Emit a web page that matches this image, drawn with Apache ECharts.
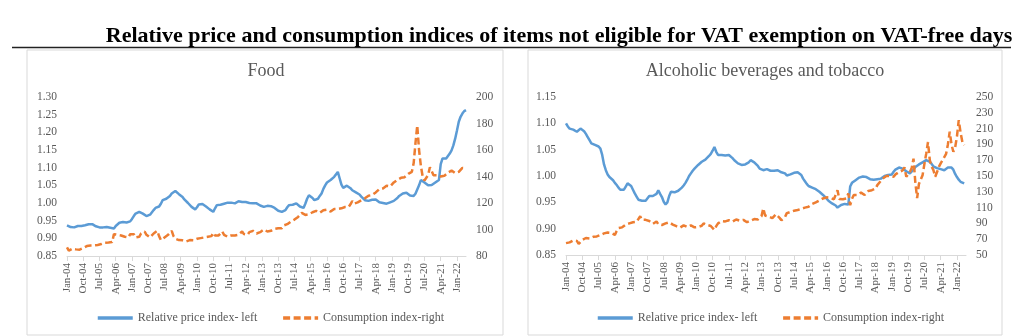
<!DOCTYPE html>
<html><head><meta charset="utf-8">
<script src="https://cdn.jsdelivr.net/npm/echarts@6/dist/echarts.min.js"></script>
<style>html,body{margin:0;padding:0;background:#fff}#c{width:1024px;height:336px}</style>
</head><body><div id="c"></div>
<script>
const monthNames = ['Jan','Feb','Mar','Apr','May','Jun','Jul','Aug','Sep','Oct','Nov','Dec'];
const firstYear = 4;
const monthCount = 222;
const months = [];
for (let i = 0; i < monthCount; i++) {
  months.push(monthNames[i % 12] + '-' + String(firstYear + Math.floor(i / 12)).padStart(2, '0'));
}

const foodPrice = [
0.937,0.934,0.932,0.931,0.931,0.933,0.935,0.936,0.935,0.937,
0.937,0.938,0.940,0.941,0.940,0.937,0.934,0.932,0.931,0.932,
0.931,0.930,0.932,0.931,0.930,0.929,0.928,0.935,0.940,0.944,
0.945,0.946,0.946,0.945,0.946,0.948,0.955,0.963,0.970,0.973,
0.975,0.974,0.970,0.966,0.963,0.965,0.967,0.970,0.980,0.986,
0.988,0.990,0.998,1.008,1.013,1.012,1.015,1.020,1.027,1.031,
1.034,1.030,1.025,1.024,1.017,1.010,1.005,1.000,0.995,0.989,
0.985,0.982,0.988,0.996,1.000,0.997,0.993,0.990,0.987,0.982,
0.978,0.975,0.985,0.994,0.998,0.995,0.994,0.998,1.000,1.001,
0.999,1.001,1.000,0.999,1.003,1.005,1.006,1.003,1.001,1.003,
1.002,1.000,1.001,0.999,0.998,0.999,0.997,0.993,0.991,0.989,
0.990,0.992,0.993,0.991,0.989,0.986,0.984,0.978,0.976,0.975,
0.977,0.980,0.988,0.994,0.996,0.995,0.998,0.999,0.995,0.990,
0.987,0.986,0.998,1.012,1.022,1.020,1.014,1.008,1.005,1.012,
1.020,1.027,1.040,1.050,1.058,1.060,1.065,1.068,1.074,1.078,
1.088,1.070,1.052,1.043,1.046,1.049,1.050,1.042,1.036,1.033,
1.030,1.027,1.024,1.018,1.013,1.008,1.005,1.006,1.008,1.009,
1.010,1.010,1.005,1.002,1.001,1.000,0.999,0.998,0.999,1.002,
1.004,1.006,1.008,1.014,1.020,1.024,1.027,1.028,1.029,1.025,
1.021,1.017,1.020,1.026,1.031,1.050,1.065,1.062,1.058,1.054,
1.050,1.050,1.051,1.052,1.058,1.062,1.065,1.110,1.126,1.124,
1.126,1.133,1.140,1.149,1.163,1.182,1.205,1.230,1.244,1.253,1.260,1.263
];
const foodCons = [
86.5,84.0,83.0,85.5,84.5,85.0,86.5,84.8,85.5,86.0,
87.0,87.5,86.8,88.0,88.5,88.0,89.0,88.3,88.8,89.0,
89.5,90.0,89.6,90.2,91.0,90.5,96.5,95.5,96.0,94.8,
95.5,96.0,94.5,95.0,94.0,96.5,95.0,96.5,94.0,95.0,
94.5,97.0,95.5,98.5,96.0,94.5,94.0,95.5,97.0,96.5,
99.0,95.0,92.0,93.0,94.0,95.0,96.0,97.5,99.0,95.0,
93.0,92.5,92.0,91.5,91.8,92.5,91.0,91.5,92.0,92.5,
91.8,92.5,93.0,92.8,93.5,94.5,94.0,95.0,94.5,96.0,
95.0,97.5,95.5,94.5,95.5,96.0,98.5,96.0,95.0,94.5,
95.0,95.5,96.5,95.5,97.0,96.0,97.5,98.5,96.5,95.5,
96.0,98.0,99.5,99.0,98.0,97.0,98.5,98.0,99.0,100.0,
99.5,98.5,98.0,99.0,100.0,100.5,100.0,101.0,101.5,101.0,
103.0,104.5,104.0,105.5,106.0,106.5,107.5,108.5,109.5,111.0,
112.5,112.0,111.0,112.5,111.5,112.5,113.0,112.0,114.0,113.0,
112.5,113.5,114.5,113.5,115.0,114.0,113.5,114.5,115.5,114.5,
115.5,116.0,116.0,115.5,117.0,116.5,117.0,119.0,121.5,119.5,
120.0,120.5,121.5,122.0,123.0,123.5,124.0,125.5,125.0,126.0,
127.0,128.0,129.0,130.5,129.5,131.0,132.5,133.0,131.5,132.5,
134.0,135.5,136.0,137.5,138.0,139.0,140.0,139.5,141.0,142.0,
142.5,143.5,150.0,165.0,178.5,160.0,148.0,140.0,137.0,135.5,
141.0,147.0,144.0,141.0,139.5,141.0,142.5,140.0,138.5,140.5,
142.0,143.0,142.5,144.5,145.0,142.5,141.0,143.5,144.5,146.5,147.5,146.0
];
const alcPrice = [
1.100,1.094,1.090,1.090,1.088,1.087,1.084,1.085,1.090,1.089,
1.085,1.080,1.074,1.068,1.062,1.060,1.059,1.058,1.056,1.052,
1.040,1.022,1.011,1.003,0.998,0.995,0.992,0.987,0.983,0.978,
0.974,0.972,0.974,0.980,0.986,0.984,0.981,0.974,0.967,0.961,
0.955,0.952,0.953,0.954,0.953,0.956,0.962,0.965,0.962,0.961,
0.966,0.973,0.966,0.960,0.951,0.946,0.950,0.962,0.970,0.970,
0.969,0.969,0.972,0.975,0.978,0.982,0.987,0.993,1.000,1.005,
1.010,1.014,1.017,1.021,1.024,1.027,1.030,1.031,1.033,1.038,
1.042,1.048,1.055,1.046,1.040,1.039,1.040,1.038,1.039,1.041,
1.040,1.038,1.034,1.030,1.027,1.024,1.022,1.021,1.021,1.022,
1.022,1.026,1.030,1.028,1.026,1.024,1.019,1.014,1.011,1.011,
1.012,1.013,1.011,1.010,1.009,1.010,1.011,1.011,1.009,1.007,
1.006,1.005,1.001,1.001,1.003,1.005,1.006,1.007,1.007,1.005,
1.002,0.995,0.990,0.985,0.981,0.979,0.978,0.978,0.975,0.972,
0.970,0.967,0.964,0.961,0.957,0.953,0.950,0.948,0.948,0.944,
0.940,0.943,0.945,0.946,0.947,0.948,0.946,0.980,0.987,0.990,
0.992,0.994,0.997,0.998,0.999,0.998,0.998,0.996,0.994,0.994,
0.993,0.993,0.994,0.995,0.995,0.997,1.000,1.002,1.002,1.003,
1.003,1.008,1.012,1.014,1.016,1.017,1.014,1.011,1.009,1.007,
1.005,1.006,1.012,1.017,1.020,1.022,1.024,1.026,1.028,1.030,
1.029,1.027,1.023,1.018,1.016,1.015,1.015,1.013,1.012,1.011,
1.013,1.016,1.017,1.016,1.012,1.004,0.998,0.993,0.989,0.987,0.986
];
const alcCons = [
65.0,67.5,66.0,67.0,68.5,66.5,67.8,64.0,63.0,69.0,
70.0,71.5,72.0,71.0,73.5,73.0,74.0,73.5,75.0,75.3,
76.5,77.4,76.5,78.5,79.5,78.0,80.0,75.5,80.5,84.0,
85.9,85.0,87.2,88.5,87.0,90.1,89.0,91.5,91.0,92.0,
94.0,99.0,94.5,93.0,94.5,92.5,93.0,94.0,89.5,91.4,
92.5,89.0,86.7,88.0,89.5,90.0,88.5,91.4,89.0,88.5,
88.0,86.5,87.0,84.6,86.0,87.5,88.0,85.5,86.7,87.5,
86.0,85.0,86.5,85.5,84.6,87.0,90.0,89.0,88.0,87.5,
86.7,85.0,81.7,86.5,90.0,91.5,93.0,94.4,92.5,93.0,
94.0,92.5,92.2,93.5,95.0,94.4,93.5,95.5,94.4,93.0,
91.5,92.2,93.5,94.4,95.5,96.0,95.0,97.2,99.0,109.0,
100.0,100.0,98.5,97.5,96.6,99.0,101.5,100.8,97.0,94.0,
93.0,98.0,103.0,103.5,104.5,105.0,106.0,106.5,107.0,108.0,
108.5,109.0,110.0,110.5,111.0,112.5,114.5,115.5,116.5,117.5,
119.0,120.5,121.6,122.5,123.0,123.8,122.5,121.6,120.5,126.0,
132.0,121.0,119.6,120.5,121.0,121.6,128.0,113.0,121.0,126.0,
127.0,126.0,128.0,129.0,127.0,126.0,128.0,131.0,130.0,132.0,
133.0,134.0,138.5,140.0,144.0,146.7,148.0,150.0,150.9,150.0,
148.0,149.0,152.0,153.0,155.0,156.0,157.0,161.0,149.0,152.0,
155.0,160.0,172.0,142.0,122.0,140.0,145.5,151.0,165.0,178.0,
193.0,170.0,162.0,157.5,149.0,155.0,161.6,166.0,170.0,174.0,
178.0,190.0,206.0,190.0,180.6,186.0,200.0,220.6,205.0,193.0,189.0
];
const alcRightTicks = [50,70,90,110,130,150,170,190,210,230,250];

const seriesNames = ['Relative price index- left', 'Consumption index-right'];
const BLUE = '#5b9bd5', ORANGE = '#ed7d31', GREY = '#595959', AXIS = '#d9d9d9';
const FONT = 'Liberation Serif';

function xAxis(gridIndex) {
  return {
    type: 'category', gridIndex, data: months, boundaryGap: false,
    axisLine: { lineStyle: { color: AXIS, width: 1 } },
    axisTick: { show: true, interval: 8, length: 5, lineStyle: { color: AXIS } },
    axisLabel: { interval: 8, rotate: 90, margin: 7, color: GREY, fontFamily: FONT, fontSize: 11 },
    splitLine: { show: false }
  };
}
function yAxis(gridIndex, pos, min, max, interval, digits, custom) {
  const a = {
    type: 'value', gridIndex, position: pos, min, max,
    axisLine: { show: false }, axisTick: { show: false }, splitLine: { show: false },
    axisLabel: { color: GREY, fontFamily: FONT, fontSize: 11.5, margin: 10,
      formatter: v => Number(v).toFixed(digits) }
  };
  if (custom) { a.axisLabel.customValues = custom; } else { a.interval = interval; }
  return a;
}
function priceSeries(xi, yi, data) {
  return { name: seriesNames[0], type: 'line', xAxisIndex: xi, yAxisIndex: yi, data,
    symbol: 'none', lineStyle: { color: BLUE, width: 2.5 }, itemStyle: { color: BLUE }, animation: false };
}
function consSeries(xi, yi, data) {
  return { name: seriesNames[1], type: 'line', xAxisIndex: xi, yAxisIndex: yi, data,
    symbol: 'none', lineStyle: { color: ORANGE, width: 2.5, type: [7, 3.5] }, itemStyle: { color: ORANGE }, animation: false };
}
function legend(left) {
  return { left, top: 312, padding: 0, data: seriesNames, itemWidth: 35, itemHeight: 12, itemGap: 24,
    itemStyle: { opacity: 0 }, lineStyle: { width: 3.5 },
    textStyle: { color: GREY, fontFamily: FONT, fontSize: 12 }, selectedMode: false };
}

const chart = echarts.init(document.getElementById('c'));
chart.setOption({
  animation: false,
  grid: [
    { left: 67, right: 558, top: 97, bottom: 80 },
    { left: 566, right: 58, top: 97, bottom: 81 }
  ],
  xAxis: [xAxis(0), xAxis(1)],
  yAxis: [
    yAxis(0, 'left', 0.85, 1.30, 0.05, 2),
    yAxis(0, 'right', 80, 200, 20, 0),
    yAxis(1, 'left', 0.85, 1.15, 0.05, 2),
    yAxis(1, 'right', 50, 250, 20, 0, alcRightTicks)
  ],
  legend: [legend(96), legend(596)],
  series: [
    priceSeries(0, 0, foodPrice), consSeries(0, 1, foodCons),
    priceSeries(1, 2, alcPrice), consSeries(1, 3, alcCons)
  ],
  graphic: [
    { type: 'rect', shape: { x: 27, y: 50, width: 476, height: 285 }, style: { fill: 'none', stroke: AXIS, lineWidth: 1 }, silent: true },
    { type: 'rect', shape: { x: 528, y: 50, width: 474, height: 285 }, style: { fill: 'none', stroke: AXIS, lineWidth: 1 }, silent: true },
    { type: 'line', shape: { x1: 12, y1: 47.5, x2: 1011, y2: 47.5 }, style: { stroke: '#222', lineWidth: 1.5 }, silent: true },
    { type: 'text', x: 559, y: 36, style: { text: 'Relative price and consumption indices of items not eligible for VAT exemption on VAT-free days',
      fontFamily: FONT, fontWeight: 'bold', fontSize: 22, fill: '#000', textAlign: 'center', textVerticalAlign: 'middle' } },
    { type: 'text', x: 266, y: 71, style: { text: 'Food', fontFamily: FONT, fontSize: 18, fill: GREY, textAlign: 'center', textVerticalAlign: 'middle' } },
    { type: 'text', x: 765, y: 71, style: { text: 'Alcoholic beverages and tobacco', fontFamily: FONT, fontSize: 18, fill: GREY, textAlign: 'center', textVerticalAlign: 'middle' } }
  ]
});
</script></body></html>
